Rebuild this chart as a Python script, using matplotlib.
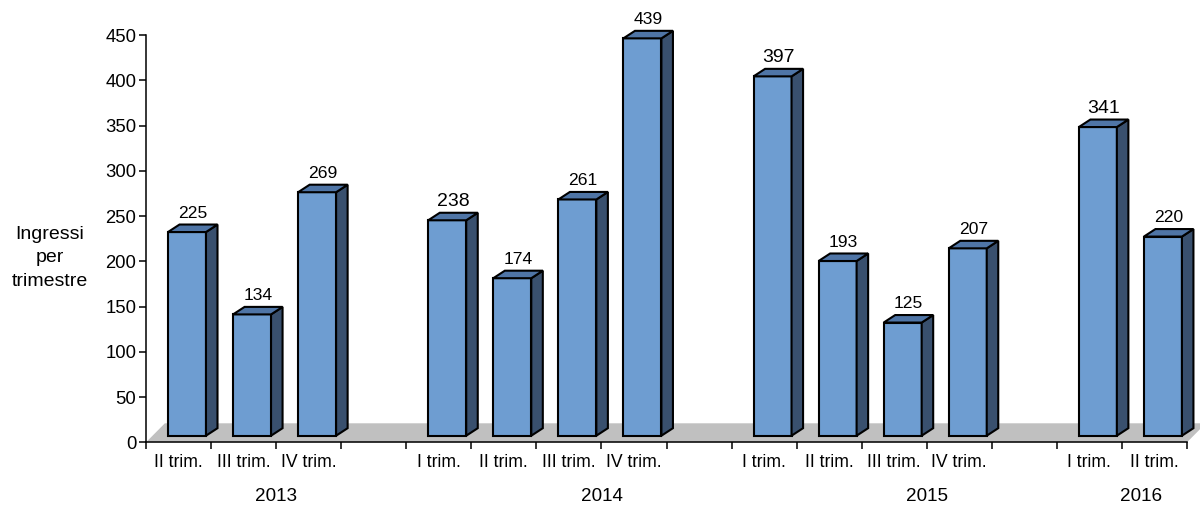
import matplotlib
matplotlib.use("Agg")
import matplotlib.pyplot as plt
from matplotlib.patches import Polygon

plt.rcParams["font.family"] = ["Liberation Sans", "DejaVu Sans"]

# Quarterly entries, grouped by year
years = ["2013", "2014", "2015", "2016"]
quarters_2013 = ["II trim.", "III trim.", "IV trim."]
values_2013 = [225, 134, 269]
quarters_2014 = ["I trim.", "II trim.", "III trim.", "IV trim."]
values_2014 = [238, 174, 261, 439]
quarters_2015 = ["I trim.", "II trim.", "III trim.", "IV trim."]
values_2015 = [397, 193, 125, 207]
quarters_2016 = ["I trim.", "II trim."]
values_2016 = [341, 220]
y_ticks = [0, 50, 100, 150, 200, 250, 300, 350, 400, 450]
y_label = "Ingressi\nper\ntrimestre"

groups = [
    (quarters_2013, values_2013),
    (quarters_2014, values_2014),
    (quarters_2015, values_2015),
    (quarters_2016, values_2016),
]

# Lay the categories out in slots, leaving one empty slot between years
slot_labels, slot_values = [], []
for i, (qs, vs) in enumerate(groups):
    if i > 0:
        slot_labels.append("")
        slot_values.append(None)
    slot_labels.extend(qs)
    slot_values.extend(vs)
n_slots = len(slot_labels)

year_pos = [2.0, 7.0, 12.0, 15.3]
big_labels = {238, 397, 341}

FRONT = "#6E9DD1"
SIDE = "#39506E"
TOP = "#4F75A6"
FLOOR = "#C0C0C0"

fig = plt.figure(figsize=(12, 5.07), dpi=100)
ax = fig.add_axes([146 / 1200, 1 - 442.3 / 507, (1187 - 146) / 1200, 407.3 / 507])
ax.set_xlim(0, n_slots)
ax.set_ylim(0, 450)

# 3-D look: depth offsets in data units
dx, dy = 0.177, 8.3
base = 7.3
left_off, width = 0.338, 0.584

# floor
floor_depth_x, floor_depth_y = 0.29, 21
ax.add_patch(Polygon([(0, 0), (n_slots, 0), (n_slots + floor_depth_x, floor_depth_y),
                      (floor_depth_x, floor_depth_y)], closed=True,
                     facecolor=FLOOR, edgecolor="none", zorder=0.5, clip_on=False))

lw = 1.5
for i, v in enumerate(slot_values):
    if v is None:
        continue
    x0 = i + left_off
    x1 = x0 + width
    b, t = base, base + v
    front = Polygon([(x0, b), (x1, b), (x1, t), (x0, t)], closed=True,
                    facecolor=FRONT, edgecolor="black", lw=lw, zorder=2,
                    clip_on=False, joinstyle="miter")
    side = Polygon([(x1, b), (x1 + dx, b + dy), (x1 + dx, t + dy), (x1, t)], closed=True,
                   facecolor=SIDE, edgecolor="black", lw=lw, zorder=2,
                   clip_on=False, joinstyle="miter")
    top = Polygon([(x0, t), (x1, t), (x1 + dx, t + dy), (x0 + dx, t + dy)], closed=True,
                  facecolor=TOP, edgecolor="black", lw=lw, zorder=2,
                  clip_on=False, joinstyle="miter")
    for p in (front, side, top):
        ax.add_patch(p)
    ax.annotate(str(v), xy=((x0 + x1 + dx) / 2, t + dy), xytext=(0, 5),
                textcoords="offset points", ha="center", va="baseline",
                fontsize=14 if v in big_labels else 12.6, annotation_clip=False)

# axes styling
for s in ("top", "right"):
    ax.spines[s].set_visible(False)
for s in ("left", "bottom"):
    ax.spines[s].set_linewidth(1.1)
    ax.spines[s].set_zorder(3)

ax.set_yticks(y_ticks)
ax.set_yticklabels([str(t) for t in y_ticks])
ax.tick_params(axis="y", direction="out", length=5, width=1.1, pad=2, labelsize=13.3)

ax.set_xticks(range(n_slots + 1))
ax.set_xticklabels([])
ax.set_xticks([i + 0.5 for i in range(n_slots)], minor=True)
ax.set_xticklabels(slot_labels, minor=True)
ax.tick_params(axis="x", which="major", direction="out", length=5, width=1.1)
ax.tick_params(axis="x", which="minor", length=0, pad=8.5, labelsize=12.7)

for yr, xp in zip(years, year_pos):
    ax.annotate(yr, xy=(xp, 0), xycoords=("data", "axes fraction"),
                xytext=(0, -39.2), textcoords="offset points",
                ha="center", va="center", fontsize=13.6, annotation_clip=False)

fig.text(50 / 1200, 1 - 258 / 507, y_label, ha="center", va="center",
         fontsize=14, multialignment="center", linespacing=1.48)

fig.savefig("out.png", dpi=100)
